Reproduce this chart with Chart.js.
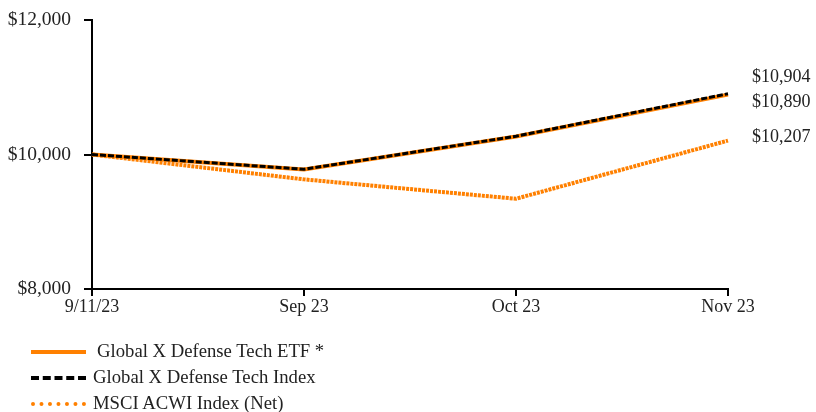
<!DOCTYPE html>
<html>
<head>
<meta charset="utf-8">
<script src="https://cdn.jsdelivr.net/npm/chart.js@4/dist/chart.umd.min.js"></script>
<style>
  html, body { margin: 0; padding: 0; background: #fff; }
  #wrap { position: relative; width: 816px; height: 412px; }
  canvas { position: absolute; left: 0; top: 0; }
  .legend { position: absolute; left: 31px; top: 338px; font-family: "Liberation Serif", "Times New Roman", serif; font-size: 18.7px; color: #222; }
  .item { position: relative; height: 26px; line-height: 26px; white-space: nowrap; }
  .swatch { position: absolute; left: 0; top: 12px; width: 55px; height: 0; }
  .label { position: absolute; left: 62px; top: 0; }
</style>
</head>
<body>
<div id="wrap">
  <canvas id="c" width="816" height="412"></canvas>
  <div class="legend">
    <div class="item"><div class="swatch" style="border-top:4px solid #FF8000;"></div><span class="label" style="left:66px">Global X Defense Tech ETF *</span></div>
    <div class="item"><div class="swatch" style="border-top:4px dashed #000;"></div><span class="label">Global X Defense Tech Index</span></div>
    <div class="item"><div class="swatch" style="border-top:4px dotted #FF8000;"></div><span class="label">MSCI ACWI Index (Net)</span></div>
  </div>
</div>
<script>
const categories = ["9/11/23", "Sep 23", "Oct 23", "Nov 23"];
const etfValues = [10000, 9778, 10268, 10890];
const indexValues = [10000, 9780, 10272, 10904];
const msciValues = [10000, 9630, 9342, 10207];
const seriesNames = ["Global X Defense Tech ETF *", "Global X Defense Tech Index", "MSCI ACWI Index (Net)"];
const yTicks = [8000, 10000, 12000];
const endLabelOffsets = [8, -16, -3];

const fmt = v => "$" + v.toLocaleString("en-US");
const FONT = "Liberation Serif";

const endLabels = {
  id: "endLabels",
  afterDatasetsDraw(chart) {
    const ctx = chart.ctx;
    ctx.save();
    ctx.font = "18px '" + FONT + "'";
    ctx.fillStyle = "#222";
    ctx.textBaseline = "middle";
    ctx.textAlign = "left";
    chart.data.datasets.forEach((ds, i) => {
      const meta = chart.getDatasetMeta(i);
      const pt = meta.data[meta.data.length - 1];
      const v = ds.data[ds.data.length - 1];
      ctx.fillText(fmt(v), pt.x + 24, pt.y + endLabelOffsets[i]);
    });
    ctx.restore();
  }
};

new Chart(document.getElementById("c"), {
  type: "line",
  data: {
    labels: categories,
    datasets: [
      { label: seriesNames[0], data: etfValues, borderColor: "#FF8000", borderWidth: 4, pointRadius: 0, tension: 0, order: 2 },
      { label: seriesNames[1], data: indexValues, borderColor: "#000000", borderWidth: 3, borderDash: [6, 2], pointRadius: 0, tension: 0, order: 1 },
      { label: seriesNames[2], data: msciValues, borderColor: "#FF8000", borderWidth: 4, borderDash: [3, 1], pointRadius: 0, tension: 0, order: 3 }
    ]
  },
  options: {
    responsive: false,
    animation: false,
    layout: { padding: { left: 0, right: 88, top: 20, bottom: 0 } },
    plugins: { legend: { display: false }, tooltip: { enabled: false } },
    scales: {
      x: {
        offset: false,
        grid: { display: true, drawOnChartArea: false, drawTicks: true, tickLength: 7, color: "#000", lineWidth: 2 },
        border: { display: true, color: "#000", width: 2 },
        ticks: { color: "#222", font: { family: FONT, size: 18 }, padding: 0, maxRotation: 0, autoSkip: false },
        afterFit(scale) { scale.height = 412 - 289; scale.paddingLeft = 0; scale.paddingRight = 0; }
      },
      y: {
        min: 8000, max: 12000,
        afterBuildTicks(scale) { scale.ticks = yTicks.map(v => ({ value: v })); },
        grid: { display: true, drawOnChartArea: false, drawTicks: true, tickLength: 8, color: "#000", lineWidth: 2 },
        border: { display: true, color: "#000", width: 2 },
        ticks: { color: "#222", font: { family: FONT, size: 19.5 }, padding: 13, callback: v => fmt(v) },
        afterFit(scale) { scale.width = 92; scale.paddingTop = 0; scale.paddingBottom = 0; }
      }
    }
  },
  plugins: [endLabels]
});
</script>
</body>
</html>
